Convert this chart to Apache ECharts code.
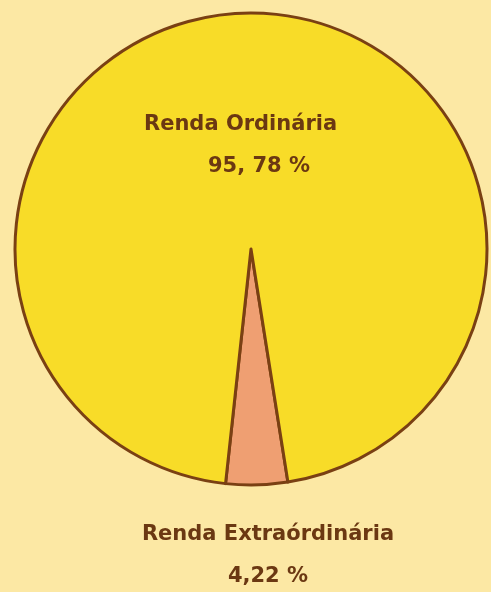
<!DOCTYPE html>
<html>
<head>
<meta charset="utf-8">
<script src="https://cdn.jsdelivr.net/npm/echarts@6/dist/echarts.min.js"></script>
<style>
  html, body { margin: 0; padding: 0; background: #fce8a4; }
  #chart { width: 491px; height: 592px; }
</style>
</head>
<body>
<div id="chart"></div>
<script>
// fatias (ordem horária a partir da borda direita da fatia pequena)
const names = ["Renda Extraórdinária", "Renda Ordinária"];
const values = [4.22, 95.78];
const pctText = ["4,22 %", "95, 78 %"];
const colors = ["#ef9f72", "#f8dc28"];

const chart = echarts.init(document.getElementById("chart"));

const option = {
  backgroundColor: "#fce8a4",
  series: [
    {
      type: "pie",
      center: [251, 249],
      radius: 236,
      startAngle: -81,
      clockwise: true,
      avoidLabelOverlap: false,
      silent: true,
      itemStyle: {
        borderColor: "#7a4013",
        borderWidth: 3,
      },
      labelLine: { show: false },
      label: {
        show: true,
        position: "outside",
        color: "#6b3812",
        fontFamily: "DejaVu Sans",
        fontWeight: "bold",
        fontSize: 21,
        lineHeight: 42,
        formatter: function (p) {
          return "{a|" + p.name + "}\n{b|" + pctText[p.dataIndex] + "}";
        },
      },
      labelLayout: function (p) {
        // posições dos textos como no original
        if (p.dataIndex === 1) {
          return { x: 144, y: 104, align: "left", verticalAlign: "top" };
        }
        return { x: 268, y: 514, align: "center", verticalAlign: "top" };
      },
      data: names.map((n, i) => ({
        name: n,
        value: values[i],
        itemStyle: { color: colors[i] },
        label: {
          rich: {
            a: { fontSize: 21, fontWeight: "bold", color: "#6b3812", lineHeight: 42 },
            b: {
              fontSize: 21,
              fontWeight: "bold",
              color: "#6b3812",
              lineHeight: 42,
              padding: i === 1 ? [0, 0, 0, 64] : 0,
            },
          },
        },
      })),
    },
  ],
};

chart.setOption(option);
</script>
</body>
</html>
